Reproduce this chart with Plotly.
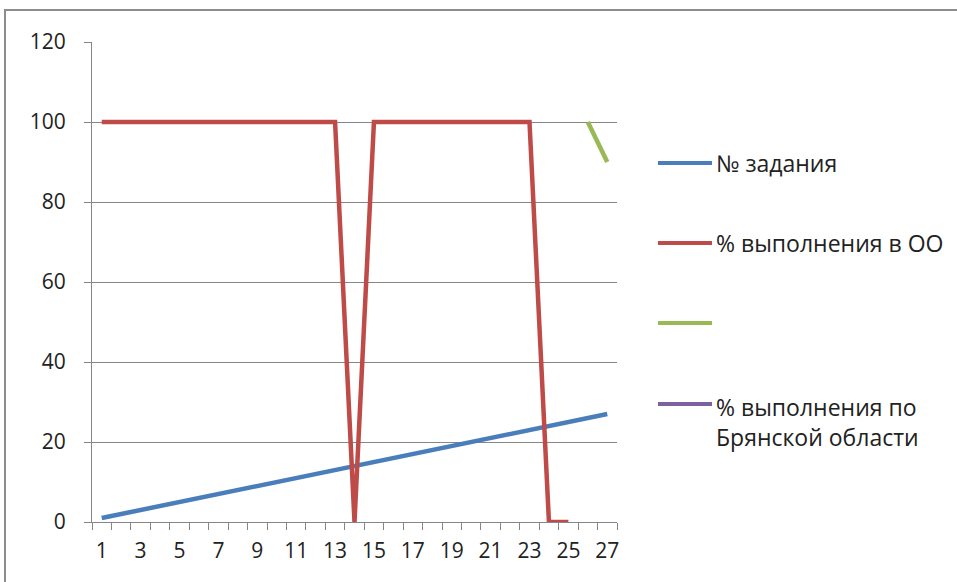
import plotly.graph_objects as go

categories = list(range(1, 28))
task_numbers = list(range(1, 28))
pct_oo = [100]*13 + [0] + [100]*9 + [0, 0]          # tasks 1..25
green_x = [26, 27]
green_vals = [100, 90]
purple_vals = []
y_ticks = [0, 20, 40, 60, 80, 100, 120]
x_tick_labels = [str(v) for v in range(1, 28, 2)]

names = ["№ задания", "% выполнения в ОО", "", "% выполнения по<br>Брянской области"]
colors = ["#4A7EBB", "#BE4B48", "#98B954", "#7D60A0"]

fig = go.Figure()
fig.add_trace(go.Scatter(x=categories, y=task_numbers, mode="lines",
                         line=dict(color=colors[0], width=4.5), showlegend=False))
fig.add_trace(go.Scatter(x=categories[:len(pct_oo)], y=pct_oo, mode="lines",
                         line=dict(color=colors[1], width=4.5), showlegend=False))
fig.add_trace(go.Scatter(x=green_x, y=green_vals, mode="lines",
                         line=dict(color=colors[2], width=4.5), showlegend=False))
fig.add_trace(go.Scatter(x=categories[:len(purple_vals)], y=purple_vals, mode="lines",
                         line=dict(color=colors[3], width=4.5), showlegend=False))

font = "Open Sans"
L, T, R, B = 92, 42, 617, 522
fig.update_layout(
    width=957, height=582,
    margin=dict(l=L, r=957 - R, t=T, b=582 - B),
    paper_bgcolor="white", plot_bgcolor="white",
    font=dict(family=font, size=21, color="#222222"),
    xaxis=dict(range=[0.5, 27.5], tickvals=list(range(1, 28, 2)), ticktext=x_tick_labels,
               ticks="", showgrid=False, showline=True, linecolor="#868686", linewidth=1,
               zeroline=False, ticklabelstandoff=10,
               minor=dict(ticks="outside", tick0=0.5, dtick=1, ticklen=7, tickcolor="#868686", showgrid=False)),
    yaxis=dict(range=[0, 120], tickvals=y_ticks, ticks="outside", ticklen=7, tickcolor="#868686",
               showgrid=True, gridcolor="#868686", gridwidth=1, showline=True, linecolor="#868686",
               linewidth=1, zeroline=False, ticklabelstandoff=14),
)

pw, ph = R - L, B - T
# chart border
fig.add_shape(type="rect", xref="paper", yref="paper", x0=(5 - L) / pw, x1=(1000 - L) / pw,
              y0=-(620 - B) / ph, y1=1 + (T - 10) / ph,
              line=dict(color="#8c8c8c", width=2), fillcolor="rgba(0,0,0,0)", layer="below")

# manual legend
leg_y_px = [163, 243, 323, 404]
for i, (n, c) in enumerate(zip(names, colors)):
    yp = 1 - (leg_y_px[i] - T) / ph
    fig.add_shape(type="line", xref="paper", yref="paper", x0=(658 - L) / pw, x1=(712 - L) / pw,
                  y0=yp, y1=yp, line=dict(color=c, width=4))
    if n:
        two = "<br>" in n
        fig.add_annotation(xref="paper", yref="paper", x=(714 - L) / pw, y=yp, text=n,
                           showarrow=False, xanchor="left", yanchor="top" if two else "middle",
                           yshift=15 if two else 0,
                           align="left", font=dict(size=23, family=font, color="#222222"))

fig.write_html("out.html", config={"displayModeBar": False},
               post_script="document.body.style.margin='0';document.body.style.overflow='hidden';")
